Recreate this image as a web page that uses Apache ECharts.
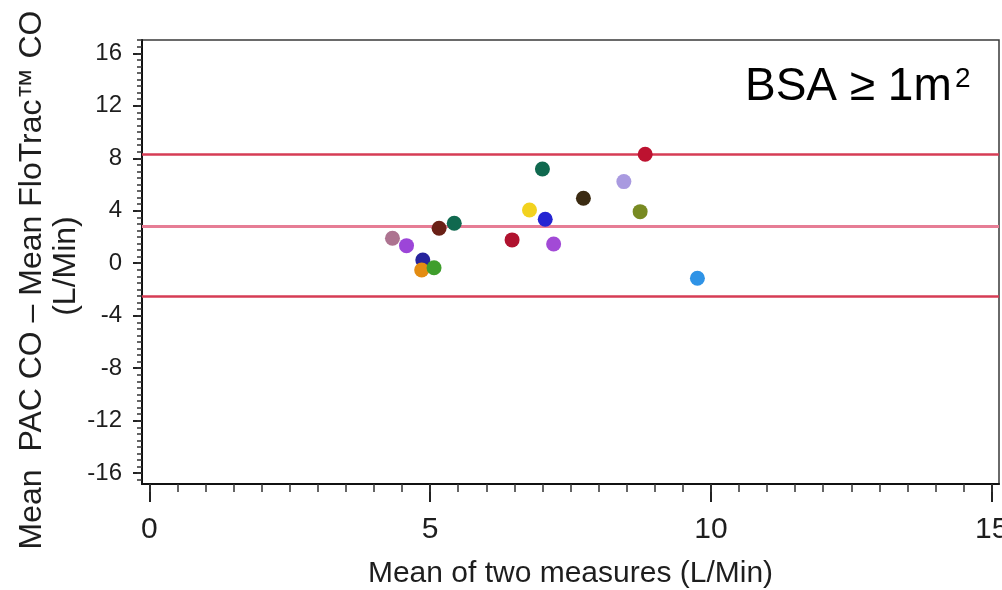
<!DOCTYPE html>
<html>
<head>
<meta charset="utf-8">
<script src="https://cdn.jsdelivr.net/npm/echarts@6/dist/echarts.min.js"></script>
<style>
  html, body { margin: 0; padding: 0; background: #fff; }
  #chart { width: 1002px; height: 590px; }
</style>
</head>
<body>
<div id="chart"></div>
<script>
// Bland-Altman points: mean of the two cardiac output measures vs. their difference (L/Min)
const meanX    = [4.33, 4.58, 4.87, 4.85, 5.07, 5.16, 5.43, 6.46, 7.00, 6.77, 7.05, 7.20, 7.73, 8.45, 8.74, 8.83, 9.76];
const meanDiff = [1.90, 1.34, 0.25, -0.51, -0.34, 2.67, 3.05, 1.78, 7.18, 4.06, 3.35, 1.47, 4.95, 6.22, 3.93, 8.30, -1.14];

// bias and limits of agreement
const upperLimit = 8.3;
const bias = 2.8;
const lowerLimit = -2.5;

// axis tick labels
const xTickValues = [0, 5, 10, 15];
const yTickValues = [-16, -12, -8, -4, 0, 4, 8, 12, 16];

// one colour per subject
const dotColors = ['#ad7390', '#9c45d8', '#26239c', '#e38c12', '#3f9e2c', '#6a2016', '#10694f', '#b0122f',
                   '#10694f', '#f2d21e', '#2424d2', '#a24ad6', '#3b2b12', '#a99ae0', '#788a22', '#bd1230', '#2f93e6'];

const xMin = -0.13, xMax = 15.13;
const yMin = -16.82, yMax = 17.01;

function steps(from, to, step) {
  const out = [];
  for (let v = from; v <= to + 1e-9; v += step) out.push(+v.toFixed(2));
  return out;
}
const xMinor = steps(0, 15, 0.5);
const yMinor = steps(-16.5, 17, 0.5);

const font = "'Liberation Sans', Arial, sans-serif";
const ink = '#1e1e1e';

const chart = echarts.init(document.getElementById('chart'), null, { renderer: 'canvas' });

chart.setOption({
  animation: false,
  backgroundColor: '#fff',
  grid: {
    left: 142, right: 3, top: 40, bottom: 106,
    outerBoundsMode: 'none',
    show: true, borderColor: '#3a3a3a', borderWidth: 1.5, backgroundColor: 'transparent'
  },
  xAxis: [
    {
      type: 'value', min: xMin, max: xMax, position: 'bottom',
      name: 'Mean of two measures (L/Min)', nameLocation: 'middle', nameGap: 75,
      nameTextStyle: { fontFamily: font, fontSize: 30, color: ink },
      axisLine: { show: true, onZero: false, lineStyle: { color: '#111', width: 2 } },
      axisTick: { show: true, customValues: xTickValues, length: 18, lineStyle: { color: '#222', width: 2 } },
      axisLabel: { show: true, customValues: xTickValues, margin: 31, fontFamily: font, fontSize: 30, color: ink },
      splitLine: { show: false }
    },
    {
      // minor ticks every 0.5
      type: 'value', min: xMin, max: xMax, position: 'bottom',
      axisLine: { show: false, onZero: false },
      axisTick: { show: true, customValues: xMinor, length: 8, lineStyle: { color: '#333', width: 1.5 } },
      axisLabel: { show: false },
      splitLine: { show: false }
    }
  ],
  yAxis: [
    {
      type: 'value', min: yMin, max: yMax, position: 'left',
      axisLine: { show: true, onZero: false, lineStyle: { color: '#111', width: 2 } },
      axisTick: { show: true, customValues: yTickValues, length: 9, lineStyle: { color: '#222', width: 2 } },
      axisLabel: {
        show: true, customValues: yTickValues, margin: 20,
        fontFamily: font, fontSize: 24, color: ink, padding: [10, 0, 0, 0]
      },
      splitLine: { show: false }
    },
    {
      // minor ticks every 0.5
      type: 'value', min: yMin, max: yMax, position: 'left',
      axisLine: { show: false, onZero: false },
      axisTick: { show: true, customValues: yMinor, length: 5, lineStyle: { color: '#333', width: 1.5 } },
      axisLabel: { show: false },
      splitLine: { show: false }
    }
  ],
  graphic: [
    {
      type: 'text', x: 32, y: 280, rotation: Math.PI / 2,
      style: {
        text: 'Mean  PAC CO \u2013 Mean FloTrac\u2122 CO',
        font: '32px ' + font, fill: ink, align: 'center', verticalAlign: 'middle'
      }
    },
    {
      type: 'text', x: 66, y: 266, rotation: Math.PI / 2,
      style: { text: '(L/Min)', font: '32px ' + font, fill: ink, align: 'center', verticalAlign: 'middle' }
    },
    {
      type: 'text', x: 745, y: 87,
      style: { text: 'BSA \u2265 1m', font: '46px ' + font, fill: '#000', align: 'left', verticalAlign: 'middle' }
    },
    {
      type: 'text', x: 955, y: 79,
      style: { text: '2', font: '28px ' + font, fill: '#000', align: 'left', verticalAlign: 'middle' }
    }
  ],
  series: [
    {
      type: 'scatter',
      xAxisIndex: 0, yAxisIndex: 0,
      symbol: 'circle', symbolSize: 15,
      itemStyle: { opacity: 1 },
      data: meanX.map((x, i) => ({ value: [x, meanDiff[i]], itemStyle: { color: dotColors[i], opacity: 1 } })),
      z: 3,
      markLine: {
        silent: true, symbol: 'none', label: { show: false },
        data: [
          { yAxis: upperLimit, lineStyle: { color: '#d63c55', width: 2.5, type: 'solid' } },
          { yAxis: bias, lineStyle: { color: '#e67d95', width: 3, type: 'solid' } },
          { yAxis: lowerLimit, lineStyle: { color: '#d63c55', width: 2.5, type: 'solid' } }
        ],
        z: 2
      }
    }
  ]
});
</script>
</body>
</html>
